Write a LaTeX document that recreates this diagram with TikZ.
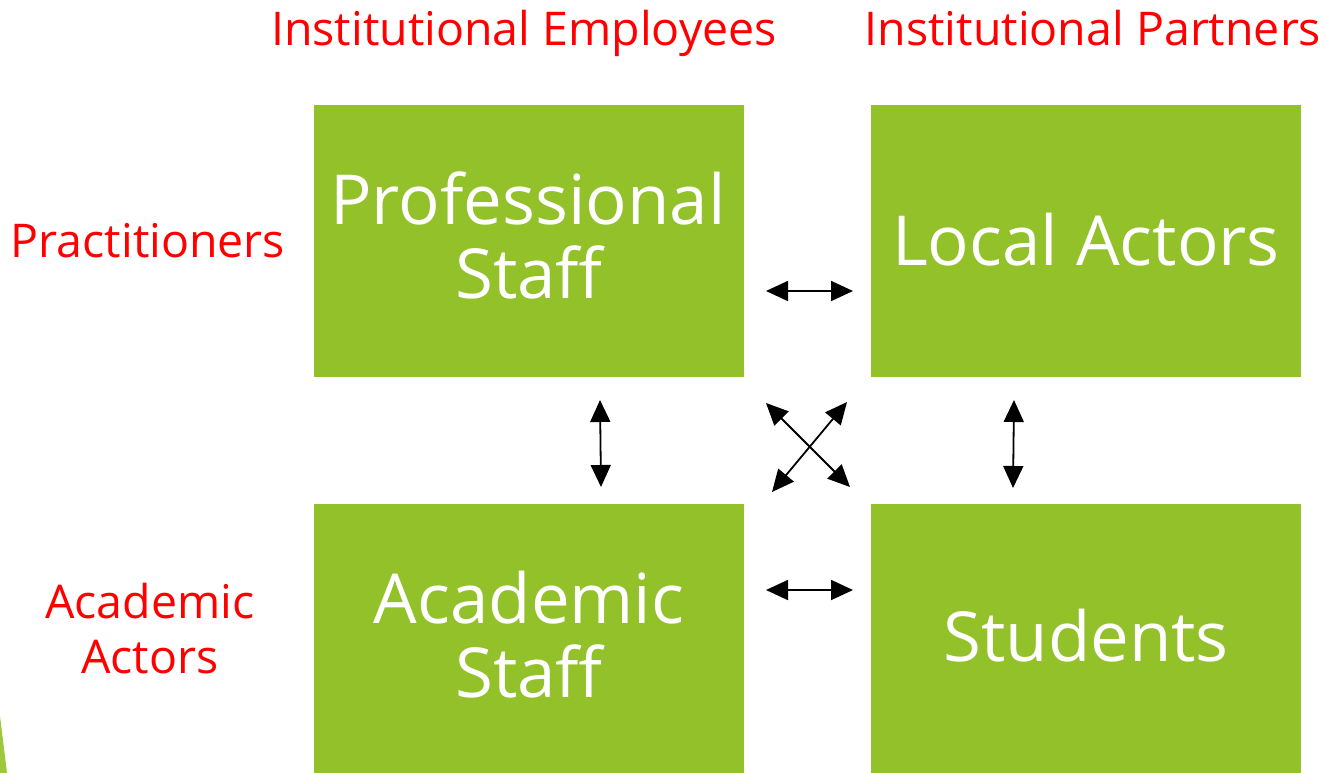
\documentclass[tikz,border=0pt]{standalone}
\usepackage{fontspec}
\setmainfont{Open Sans}
\usetikzlibrary{arrows.meta}
\definecolor{boxgreen}{HTML}{92C12A}
\definecolor{slivergreen}{HTML}{9CC83A}
\definecolor{lblred}{HTML}{FF0000}
\tikzset{
  gbox/.style={fill=boxgreen, draw=none},
  boxtxt/.style={text=white, font=\fontsize{69}{76}\selectfont, anchor=base, inner sep=0pt},
  redtxt/.style={text=lblred, font=\fontsize{46.5}{55}\selectfont, anchor=base, inner sep=0pt},
  dblarrow/.style={line width=1.8pt, {Triangle[length=22pt,width=20pt]}-{Triangle[length=22pt,width=20pt]}},
}
\begin{document}
\begin{tikzpicture}[x=1pt,y=-1pt]
\useasboundingbox (0,0) rectangle (1324,773);
% sliver
\fill[slivergreen] (0,716) -- (7,773) -- (0,773) -- cycle;
% boxes
\fill[gbox] (314,105) rectangle (744,377);
\fill[gbox] (871,105) rectangle (1301,377);
\fill[gbox] (314,504) rectangle (744,773);
\fill[gbox] (871,504) rectangle (1301,773);
\node[boxtxt] (ps1) at (528,224) {Professional};
\node[boxtxt] (ps2) at (529,298) {Staff};
\node[boxtxt] (la) at (1086,265) {Local Actors};
\node[boxtxt] (as1) at (529,623) {Academic};
\node[boxtxt] (as2) at (529,697) {Staff};
\node[boxtxt] (st) at (1086,661) {Students};
% labels
\node[redtxt] (ie) at (524,46) {Institutional Employees};
\node[redtxt] (ip) at (1093,46) {Institutional Partners};
\node[redtxt] (pr) at (148,257) {Practitioners};
\node[redtxt] (aa1) at (150,618) {Academic};
\node[redtxt] (aa2) at (150,673) {Actors};
% arrow anchors
\coordinate (h1a) at (766,291); \coordinate (h1b) at (853,291);
\coordinate (h2a) at (766,590); \coordinate (h2b) at (853,590);
\coordinate (v1a) at (600,400); \coordinate (v1b) at (601,487);
\coordinate (v2a) at (1014,400); \coordinate (v2b) at (1013,488);
\coordinate (x1a) at (766,403); \coordinate (x1b) at (850,487);
\coordinate (x2a) at (847,402); \coordinate (x2b) at (772,492);
\draw[dblarrow] (h1a) -- (h1b);
\draw[dblarrow] (h2a) -- (h2b);
\draw[dblarrow] (v1a) -- (v1b);
\draw[dblarrow] (v2a) -- (v2b);
\draw[dblarrow] (x1a) -- (x1b);
\draw[dblarrow] (x2a) -- (x2b);
\end{tikzpicture}
\end{document}
